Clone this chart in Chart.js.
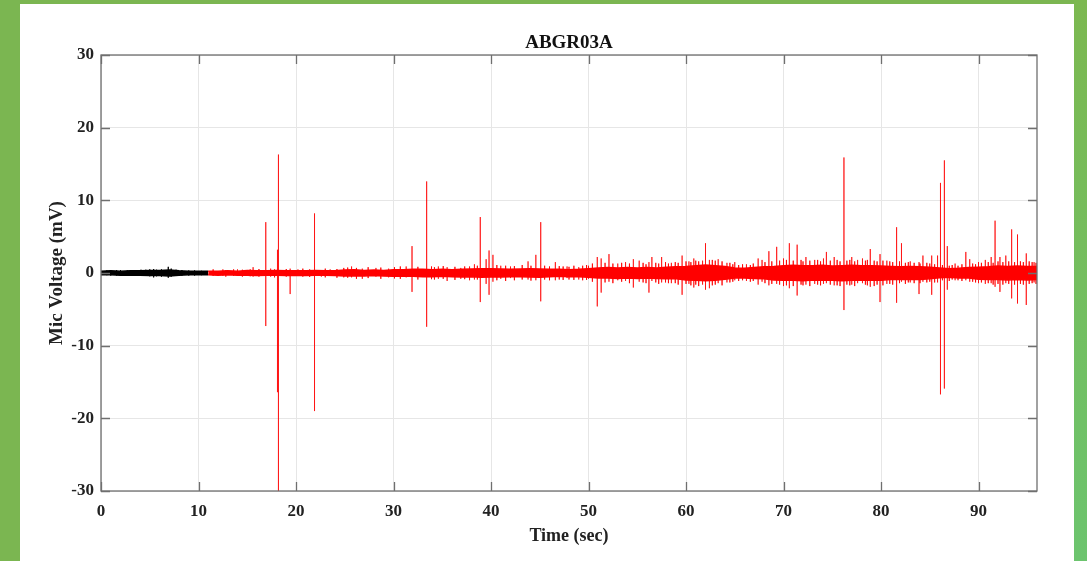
<!DOCTYPE html>
<html>
<head>
<meta charset="utf-8">
<script src="https://cdn.jsdelivr.net/npm/chart.js@4.4.1/dist/chart.umd.min.js"></script>
<style>
  html, body { margin:0; padding:0; width:1087px; height:561px; overflow:hidden; background:#7bb651; }
  #panel { position:absolute; left:20px; top:4px; width:1054px; height:557px; background:#ffffff; }
  #rstrip { position:absolute; left:1074px; top:0; width:13px; height:561px; background:linear-gradient(to bottom, #7cb850, #6cc46e); }
  #c { position:absolute; left:0; top:0; }
</style>
</head>
<body>
<div id="panel"></div>
<div id="rstrip"></div>
<canvas id="c" width="1087" height="561"></canvas>
<script>
// ---------- data ----------
const titleText = 'ABGR03A';
const xLabel = 'Time (sec)';
const yLabel = 'Mic Voltage (mV)';
const yTicks = [-30, -20, -10, 0, 10, 20, 30];
const xTicks = [0, 10, 20, 30, 40, 50, 60, 70, 80, 90];

// baseline (black) noise envelope, 0-11 s
const blackT     = [0, 1, 2, 3, 4, 5, 6, 7, 8, 9, 10, 11];
const blackUpper = [0.25, 0.3, 0.25, 0.3, 0.3, 0.35, 0.35, 0.4, 0.3, 0.25, 0.25, 0.25];
const blackLower = [-0.25, -0.25, -0.3, -0.3, -0.3, -0.35, -0.35, -0.4, -0.3, -0.25, -0.25, -0.25];
// black spikes: time, peak, trough
const blackSpikeT  = [0.6, 1.0, 1.6, 2.0, 2.7, 3.5, 4.1, 4.6, 5.0, 5.4, 5.7, 6.2, 6.9, 7.2, 7.7, 8.3, 9.0, 9.6, 10.3];
const blackSpikeHi = [0.35, 0.35, 0.4, 0.4, 0.35, 0.35, 0.45, 0.45, 0.5, 0.55, 0.45, 0.5, 0.85, 0.6, 0.45, 0.4, 0.35, 0.35, 0.3];
const blackSpikeLo = [-0.3, -0.35, -0.35, -0.35, -0.4, -0.4, -0.4, -0.35, -0.45, -0.6, -0.45, -0.5, -0.65, -0.5, -0.4, -0.35, -0.35, -0.35, -0.3];

// test (red) noise envelope, 11-96 s
const redT = [11,12,13,14,15,16,17,18,19,20,21,22,23,24,25,26,27,28,29,30,
              31,32,33,34,35,36,37,38,39,40,41,42,43,44,45,46,47,48,49,50,
              51,52,53,54,55,56,57,58,59,60,61,62,63,64,65,66,67,68,69,70,
              71,72,73,74,75,76,77,78,79,80,81,82,83,84,85,86,87,88,89,90,
              91,92,93,94,95,96];
const redUpper = [0.25,0.25,0.3,0.25,0.35,0.3,0.3,0.35,0.3,0.3,0.3,0.35,0.3,0.3,0.4,0.45,0.35,0.4,0.35,0.45,
                  0.45,0.5,0.5,0.45,0.5,0.45,0.5,0.55,0.6,0.6,0.55,0.5,0.55,0.6,0.55,0.5,0.5,0.45,0.5,0.6,
                  0.7,0.75,0.7,0.75,0.7,0.75,0.7,0.8,0.85,0.9,1.0,1.1,1.0,0.9,0.7,0.65,0.75,0.85,0.9,1.0,
                  1.05,1.0,1.0,1.05,0.95,1.0,1.05,1.0,1.0,0.95,0.9,0.85,0.9,0.85,0.8,0.7,0.6,0.65,0.75,0.8,
                  0.85,0.95,0.9,0.95,0.9,0.9];
const redLower = [-0.25,-0.3,-0.25,-0.3,-0.3,-0.35,-0.3,-0.3,-0.35,-0.3,-0.35,-0.3,-0.3,-0.35,-0.4,-0.4,-0.4,-0.35,-0.4,-0.45,
                  -0.45,-0.45,-0.5,-0.5,-0.45,-0.5,-0.55,-0.5,-0.6,-0.55,-0.55,-0.5,-0.5,-0.55,-0.6,-0.5,-0.45,-0.5,-0.5,-0.6,
                  -0.7,-0.7,-0.75,-0.7,-0.75,-0.7,-0.75,-0.8,-0.8,-0.95,-1.0,-1.05,-1.0,-0.85,-0.7,-0.7,-0.75,-0.8,-0.95,-1.0,
                  -1.0,-1.05,-0.95,-1.0,-1.0,-1.05,-1.0,-1.0,-0.95,-1.0,-0.9,-0.9,-0.85,-0.9,-0.8,-0.65,-0.6,-0.7,-0.7,-0.85,
                  -0.9,-0.9,-0.95,-0.9,-0.95,-0.9];
// red spikes: time, peak, trough
const redSpikeT  = [12.5,14.0,15.6,16.9,17.4,18.1,18.2,19.4,20.2,21.9,22.6,23.5,25.7,26.8,28.2,29.5,31.3,31.9,33.4,34.6,
                    35.5,36.9,37.8,38.3,38.9,39.5,39.8,40.2,41.0,42.0,43.8,44.6,45.1,46.6,47.8,49.0,50.0,50.9,51.3,52.1,
                    53.0,53.8,54.6,55.2,56.2,56.5,57.5,58.5,59.6,60.3,60.8,61.7,62.0,62.4,63.3,64.2,65.0,66.2,67.4,67.8,
                    68.5,69.3,70.0,70.6,71.4,72.3,73.2,74.1,74.4,75.2,76.2,77.0,77.6,78.1,78.9,79.9,80.6,81.6,82.1,83.0,
                    83.9,84.3,85.2,85.8,86.1,86.5,86.8,87.6,88.7,89.1,90.0,90.7,91.3,91.7,92.2,92.8,93.4,94.0,94.9,95.7];
const redSpikeHi = [0.5,0.5,0.8,7.0,0.6,3.2,16.3,0.6,0.5,8.2,0.4,0.5,0.9,0.6,0.7,0.6,0.9,3.7,12.6,0.9,
                    0.8,0.7,0.9,1.2,7.7,1.9,3.1,2.5,1.0,0.9,1.6,2.5,7.0,1.5,0.9,0.8,1.0,2.2,2.0,2.6,
                    1.3,1.5,1.9,1.7,1.5,2.2,2.2,1.4,2.4,1.6,2.0,1.7,4.1,1.8,1.9,1.4,1.5,1.2,2.0,1.8,
                    3.0,3.6,2.0,4.1,3.9,2.2,1.8,2.0,2.9,2.2,15.9,2.2,1.8,2.0,3.3,2.6,1.7,6.3,4.1,1.6,
                    1.5,2.4,2.4,2.4,12.4,15.5,3.7,1.3,2.9,1.9,1.5,1.8,2.2,7.2,2.2,2.4,6.0,5.3,2.7,1.5];
const redSpikeLo = [-0.4,-0.3,-0.5,-7.3,-0.5,-16.4,-31,-2.9,-0.4,-19.0,-0.5,-0.4,-0.6,-0.8,-0.5,-0.6,-0.6,-2.6,-7.4,-0.8,
                    -1.1,-0.8,-1.0,-0.9,-4.0,-1.5,-3.0,-1.2,-0.8,-0.7,-0.9,-1.0,-3.9,-1.0,-0.7,-0.9,-0.8,-4.6,-2.7,-1.2,
                    -1.0,-1.1,-2.0,-1.2,-2.7,-1.1,-1.3,-1.4,-3.0,-1.5,-2.0,-1.6,-2.3,-2.1,-1.4,-1.3,-1.0,-1.1,-1.6,-1.2,
                    -1.7,-1.5,-1.8,-2.1,-3.1,-1.6,-1.5,-1.5,-1.4,-1.7,-5.1,-1.6,-1.4,-1.4,-1.9,-4.0,-1.5,-4.1,-1.2,-1.3,
                    -2.9,-1.2,-3.0,-1.3,-16.7,-15.9,-2.3,-1.0,-1.0,-1.2,-1.4,-1.5,-1.4,-1.9,-2.6,-1.4,-3.5,-4.2,-4.4,-1.3];
// red fringe: the dense small excursions just outside the solid band
const fringeT  = [11.5,12.8,13.6,14.5,15.3,16.2,17.8,19.0,20.7,21.4,23.0,24.2,24.9,25.3,26.2,27.4,28.7,30.1,30.7,32.5,
                  33.9,34.2,35.1,36.3,37.3,38.6,40.6,41.5,42.4,43.2,44.1,45.5,46.0,47.0,47.4,48.0,48.5,49.4,49.8,50.4,
                  51.7,52.5,53.4,54.2,55.6,55.9,56.9,57.2,57.9,58.2,58.9,59.2,60.0,60.5,61.0,61.3,62.7,63.0,63.7,64.5,
                  64.8,65.4,65.8,66.6,66.9,68.1,68.8,69.6,70.3,71.0,71.8,72.0,72.7,73.5,73.8,74.8,75.5,75.8,76.5,76.8,
                  77.3,78.4,78.6,79.3,79.6,80.2,80.9,81.2,81.9,82.5,82.8,83.4,84.0,84.7,85.0,85.5,86.3,87.0,87.3,87.9,
                  88.3,89.4,89.7,90.3,91.0,91.5,92.0,92.5,93.1,93.7,94.3,94.6,95.2,95.5,95.9];
const fringeHi = [0.5,0.4,0.5,0.45,0.5,0.55,0.5,0.55,0.6,0.5,0.6,0.55,0.7,0.75,0.7,0.8,0.75,0.8,0.9,0.85,
                  0.9,0.8,0.95,0.85,0.9,1.0,1.1,1.0,0.95,1.1,1.0,1.0,0.9,0.95,0.9,0.85,1.0,1.0,1.1,1.3,
                  1.4,1.3,1.4,1.3,1.4,1.2,1.4,1.3,1.5,1.3,1.5,1.4,1.6,1.5,1.7,1.6,1.8,1.7,1.6,1.4,
                  1.2,1.1,1.2,1.1,1.3,1.5,1.6,1.7,1.8,1.7,1.8,1.6,1.7,1.8,1.6,1.7,1.8,1.6,1.7,1.8,
                  1.6,1.7,1.8,1.7,1.6,1.7,1.6,1.5,1.6,1.4,1.5,1.4,1.3,1.4,1.3,1.2,1.1,1.0,1.1,1.0,
                  1.2,1.3,1.2,1.4,1.5,1.4,1.6,1.5,1.6,1.5,1.6,1.5,1.6,1.5,1.4];
const fringeLo = [-0.4,-0.5,-0.4,-0.5,-0.45,-0.5,-0.6,-0.5,-0.5,-0.55,-0.6,-0.65,-0.6,-0.65,-0.8,-0.7,-0.8,-0.75,-0.8,-0.9,
                  -0.85,-0.9,-0.8,-0.95,-0.85,-0.9,-1.0,-1.1,-1.0,-0.9,-1.05,-0.9,-1.0,-0.9,-0.95,-0.9,-0.95,-1.0,-0.95,-1.2,
                  -1.3,-1.4,-1.2,-1.4,-1.3,-1.4,-1.3,-1.5,-1.3,-1.4,-1.4,-1.6,-1.5,-1.7,-1.6,-1.8,-1.7,-1.6,-1.7,-1.3,
                  -1.2,-1.1,-1.0,-1.2,-1.1,-1.4,-1.5,-1.6,-1.7,-1.8,-1.6,-1.7,-1.8,-1.6,-1.7,-1.6,-1.7,-1.8,-1.6,-1.7,
                  -1.8,-1.6,-1.7,-1.8,-1.6,-1.7,-1.5,-1.6,-1.4,-1.5,-1.3,-1.4,-1.4,-1.3,-1.2,-1.3,-1.0,-1.1,-0.9,-1.0,
                  -1.1,-1.2,-1.3,-1.3,-1.4,-1.6,-1.5,-1.6,-1.5,-1.6,-1.5,-1.6,-1.5,-1.4,-1.5];

// ---------- build library data from the arrays ----------
function pts(ts, vs) { return ts.map((t, i) => ({ x: t, y: vs[i] })); }
function spikePts(ts, hi, lo) {
  const out = [];
  ts.forEach((t, i) => { out.push({x:t,y:0}, {x:t,y:hi[i]}, {x:t,y:lo[i]}, {x:t,y:0}); });
  return out;
}

const framePlugin = {
  id: 'frame',
  afterDatasetsDraw(chart) {
    const { ctx, chartArea: a, scales: { x, y } } = chart;
    ctx.save();
    ctx.strokeStyle = '#6f6f6f';
    ctx.lineWidth = 1.3;
    ctx.beginPath();
    xTicks.forEach(v => {
      const px = Math.round(x.getPixelForValue(v)) + 0.5;
      ctx.moveTo(px, a.bottom); ctx.lineTo(px, a.bottom - 9);
      ctx.moveTo(px, a.top); ctx.lineTo(px, a.top + 9);
    });
    yTicks.forEach(v => {
      const py = Math.round(y.getPixelForValue(v)) + 0.5;
      ctx.moveTo(a.left, py); ctx.lineTo(a.left + 9, py);
      ctx.moveTo(a.right, py); ctx.lineTo(a.right - 9, py);
    });
    ctx.stroke();
    ctx.strokeRect(a.left, a.top, a.right - a.left, a.bottom - a.top);
    ctx.restore();
  }
};

const FONT = "'Liberation Serif', 'Times New Roman', serif";
const RED = '#ff0000';
const SPIKE_RED = 'rgba(255,0,0,0.72)';

new Chart(document.getElementById('c'), {
  type: 'line',
  data: {
    datasets: [
      { data: pts(redT, redUpper), borderColor: RED, backgroundColor: RED, borderWidth: 1.5, fill: '+1', pointRadius: 0 },
      { data: pts(redT, redLower), borderColor: RED, borderWidth: 1.5, fill: false, pointRadius: 0 },
      { data: spikePts(fringeT, fringeHi, fringeLo), borderColor: 'rgba(255,0,0,0.85)', borderWidth: 1, fill: false, pointRadius: 0 },
      { data: spikePts(redSpikeT, redSpikeHi, redSpikeLo), borderColor: SPIKE_RED, borderWidth: 1, fill: false, pointRadius: 0 },
      { data: pts(blackT, blackUpper), borderColor: '#000', backgroundColor: '#000', borderWidth: 1.5, fill: '+1', pointRadius: 0 },
      { data: pts(blackT, blackLower), borderColor: '#000', borderWidth: 1.5, fill: false, pointRadius: 0 },
      { data: spikePts(blackSpikeT, blackSpikeHi, blackSpikeLo), borderColor: '#000', borderWidth: 1, fill: false, pointRadius: 0 }
    ]
  },
  options: {
    responsive: false,
    animation: false,
    events: [],
    layout: { padding: { left: 0, right: 50, top: 0, bottom: 0 } },
    plugins: {
      legend: { display: false },
      tooltip: { enabled: false },
      title: {
        display: true, text: titleText, color: '#111', fullSize: false,
        font: { family: FONT, size: 19, weight: 'bold' },
        padding: { top: 32, bottom: 0.2 }
      }
    },
    scales: {
      x: {
        type: 'linear', min: 0, max: 96,
        afterFit: s => { s.height = 70; },
        grid: { color: '#e6e6e6', drawTicks: false, lineWidth: 1 },
        border: { display: false },
        ticks: {
          stepSize: 10, includeBounds: false, padding: 10, color: '#222', maxRotation: 0,
          font: { family: FONT, size: 17, weight: 'bold' }
        },
        title: {
          display: true, text: xLabel, color: '#222',
          font: { family: FONT, size: 18, weight: 'bold' },
          padding: { top: 0, bottom: 14 }
        }
      },
      y: {
        type: 'linear', min: -30, max: 30,
        afterFit: s => { s.width = 101; },
        grid: { color: '#e6e6e6', drawTicks: false, lineWidth: 1 },
        border: { display: false },
        ticks: {
          stepSize: 10, padding: 7, color: '#222',
          font: { family: FONT, size: 17, weight: 'bold' }
        },
        title: {
          display: true, text: yLabel, color: '#222',
          font: { family: FONT, size: 19, weight: 'bold' },
          padding: { top: 46, bottom: 0 }
        }
      }
    }
  },
  plugins: [framePlugin]
});
</script>
</body>
</html>
